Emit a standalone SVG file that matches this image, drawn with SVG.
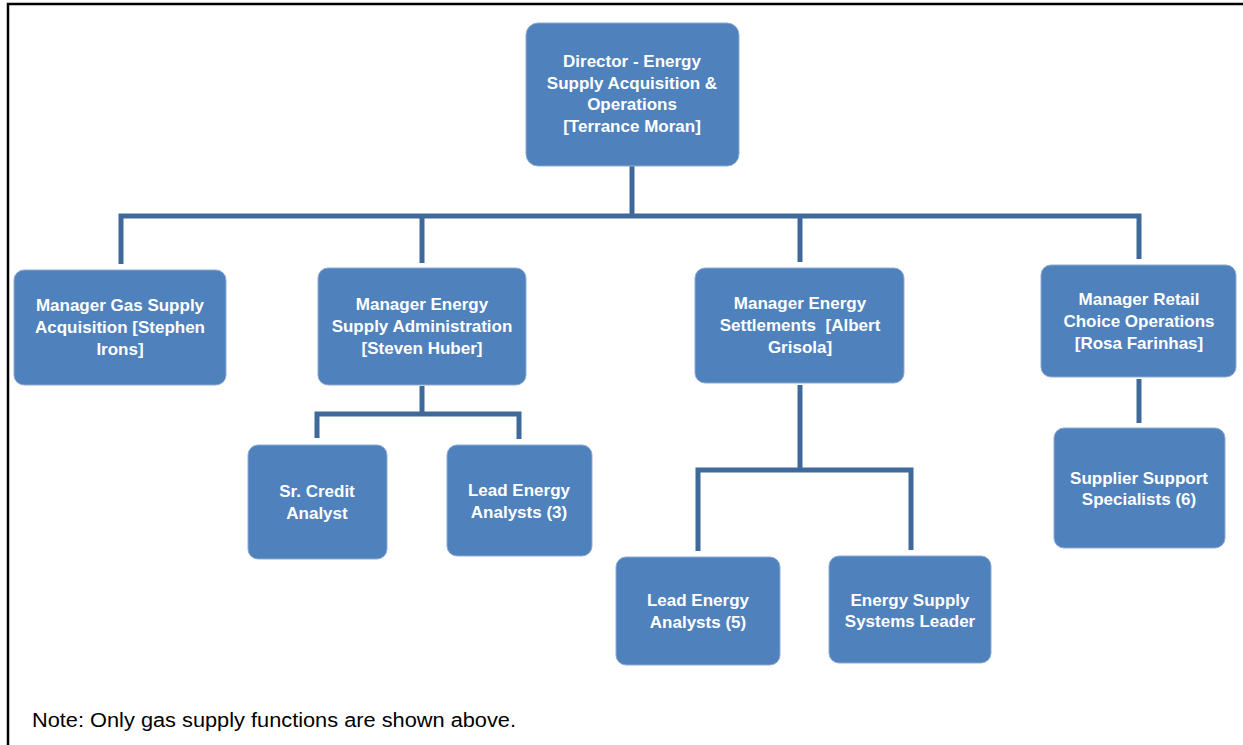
<svg xmlns="http://www.w3.org/2000/svg" width="1243" height="745" viewBox="0 0 1243 745">
<style>
.box{fill:#4f81bd;stroke:#8eabd3;stroke-width:1}
.lbl{fill:#ffffff;font-family:"Liberation Sans",Arial,sans-serif;font-weight:bold;font-size:17px;text-anchor:middle}
.conn{fill:none;stroke:#40699b;stroke-width:5;stroke-linejoin:miter}
.note{fill:#000000;font-family:"Liberation Sans",Arial,sans-serif;font-size:20px}
</style>
<rect x="0" y="0" width="1243" height="745" fill="#ffffff"/>
<rect x="8" y="4" width="1260" height="770" fill="none" stroke="#000000" stroke-width="2.5"/>
<g id="connectors">
<path class="conn" d="M632,166 V216"/>
<path class="conn" d="M121,264 V216 H1139 V259"/>
<path class="conn" d="M422,216 V263"/>
<path class="conn" d="M800,216 V262"/>
<path class="conn" d="M422,386 V414"/>
<path class="conn" d="M317,438 V414 H519 V439"/>
<path class="conn" d="M800,385 V470"/>
<path class="conn" d="M698,551 V470 H911 V550"/>
<path class="conn" d="M1139,379 V423"/>
</g>
<g id="director">
<rect class="box" x="526" y="23" width="213" height="143" rx="12"/>
<text class="lbl"><tspan x="632" y="67">Director - Energy</tspan><tspan x="632" y="89">Supply Acquisition &amp;</tspan><tspan x="632" y="110">Operations</tspan><tspan x="632" y="132">[Terrance Moran]</tspan></text>
</g>
<g id="gas">
<rect class="box" x="14" y="270" width="212" height="115" rx="10"/>
<text class="lbl"><tspan x="120" y="311">Manager Gas Supply</tspan><tspan x="120" y="333">Acquisition [Stephen</tspan><tspan x="120" y="355">Irons]</tspan></text>
</g>
<g id="admin">
<rect class="box" x="318" y="268" width="208" height="117" rx="10"/>
<text class="lbl"><tspan x="422" y="310">Manager Energy</tspan><tspan x="422" y="332">Supply Administration</tspan><tspan x="422" y="354">[Steven Huber]</tspan></text>
</g>
<g id="credit">
<rect class="box" x="248" y="445" width="139" height="114" rx="10"/>
<text class="lbl"><tspan x="317" y="497">Sr. Credit</tspan><tspan x="317" y="519">Analyst</tspan></text>
</g>
<g id="lead3">
<rect class="box" x="447" y="445" width="145" height="111" rx="10"/>
<text class="lbl"><tspan x="519" y="496">Lead Energy</tspan><tspan x="519" y="518">Analysts (3)</tspan></text>
</g>
<g id="settlements">
<rect class="box" x="695" y="268" width="209" height="115" rx="10"/>
<text class="lbl"><tspan x="800" y="309">Manager Energy</tspan><tspan x="800" y="331">Settlements &#160;[Albert</tspan><tspan x="800" y="353">Grisola]</tspan></text>
</g>
<g id="lead5">
<rect class="box" x="616" y="557" width="164" height="108" rx="10"/>
<text class="lbl"><tspan x="698" y="606">Lead Energy</tspan><tspan x="698" y="628">Analysts (5)</tspan></text>
</g>
<g id="systems">
<rect class="box" x="829" y="556" width="162" height="107" rx="10"/>
<text class="lbl"><tspan x="910" y="606">Energy Supply</tspan><tspan x="910" y="627">Systems Leader</tspan></text>
</g>
<g id="retail">
<rect class="box" x="1041" y="265" width="195" height="112" rx="10"/>
<text class="lbl"><tspan x="1139" y="305">Manager Retail</tspan><tspan x="1139" y="327">Choice Operations</tspan><tspan x="1139" y="349">[Rosa Farinhas]</tspan></text>
</g>
<g id="supplier">
<rect class="box" x="1054" y="428" width="171" height="120" rx="10"/>
<text class="lbl"><tspan x="1139" y="484">Supplier Support</tspan><tspan x="1139" y="505">Specialists (6)</tspan></text>
</g>
<text class="note" x="32" y="727" textLength="484" lengthAdjust="spacingAndGlyphs">Note: Only gas supply functions are shown above.</text>
</svg>
